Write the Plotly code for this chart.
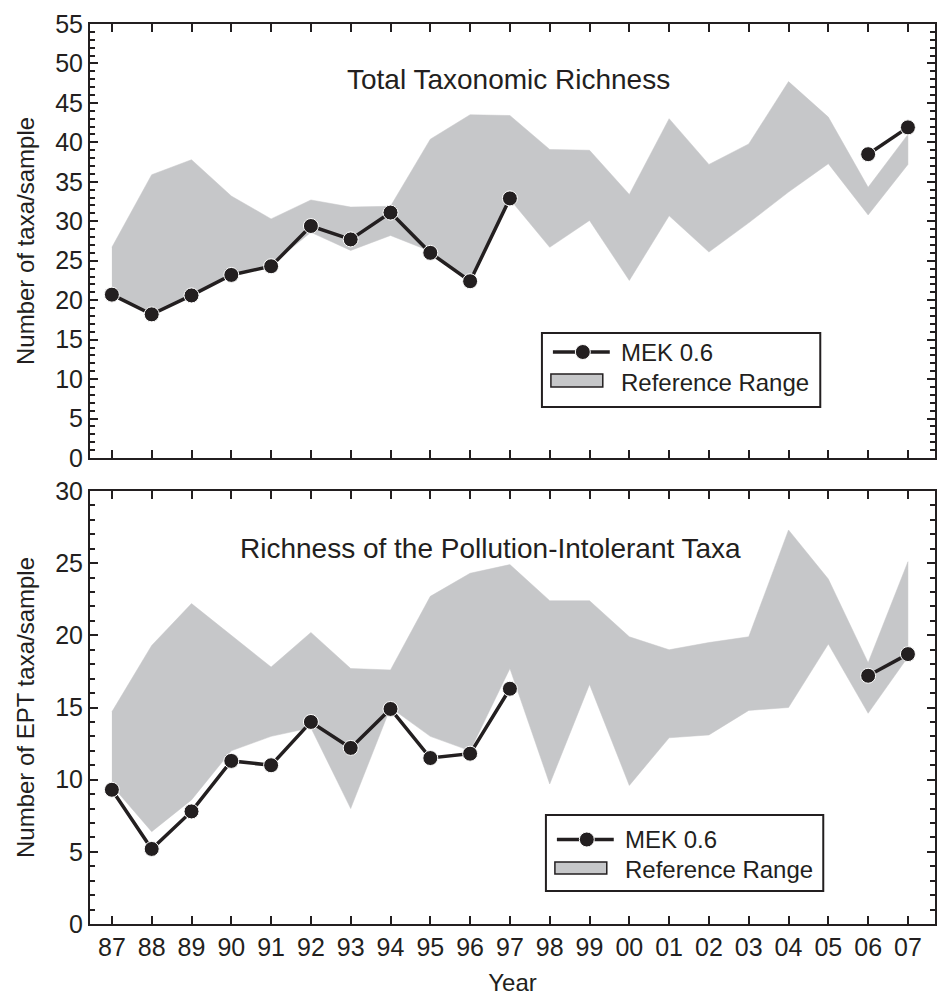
import plotly.graph_objects as go
from plotly.subplots import make_subplots

years = list(range(1987, 2008))
year_labels = ["87", "88", "89", "90", "91", "92", "93", "94", "95", "96", "97",
               "98", "99", "00", "01", "02", "03", "04", "05", "06", "07"]

# Total taxonomic richness
mek_total = [20.7, 18.2, 20.6, 23.2, 24.3, 29.4, 27.7, 31.1, 26.0, 22.4, 32.9,
             None, None, None, None, None, None, None, None, 38.5, 41.9]
ref_total_upper = [26.7, 35.9, 37.8, 33.2, 30.3, 32.7, 31.8, 31.9, 40.4, 43.5, 43.4,
                   39.1, 39.0, 33.4, 43.0, 37.2, 39.8, 47.7, 43.2, 34.3, 41.0]
ref_total_lower = [20.9, 18.5, 20.8, 23.4, 24.5, 28.6, 26.3, 28.2, 26.2, 22.6, 32.8,
                   26.7, 30.1, 22.5, 30.7, 26.1, 29.8, 33.7, 37.3, 30.8, 37.2]

# EPT richness
mek_ept = [9.3, 5.2, 7.8, 11.3, 11.0, 14.0, 12.2, 14.9, 11.5, 11.8, 16.3,
           None, None, None, None, None, None, None, None, 17.2, 18.7]
ref_ept_upper = [14.7, 19.3, 22.2, 20.0, 17.8, 20.2, 17.7, 17.6, 22.7, 24.3, 24.9,
                 22.4, 22.4, 19.9, 19.0, 19.5, 19.9, 27.3, 23.9, 18.1, 25.1]
ref_ept_lower = [9.6, 6.4, 8.6, 12.0, 13.0, 13.6, 8.0, 15.0, 13.0, 12.0, 17.7,
                 9.7, 16.6, 9.6, 12.9, 13.1, 14.8, 15.0, 19.4, 14.6, 18.5]

series_name = "MEK 0.6"
range_name = "Reference Range"

INK = "#231f20"
BAND = "#c6c7c9"
FONT = "Liberation Sans, Arial, sans-serif"

W, H = 940, 996
ML, MR, MT, MB = 90, 3, 24, 72
PW, PH = W - ML - MR, H - MT - MB


def px(x):
    return (x - ML) / PW


def py(y):
    return (H - MB - y) / PH


fig = make_subplots(rows=2, cols=1, vertical_spacing=0.0)


def add_panel(row, upper, lower, mek):
    fig.add_trace(go.Scatter(
        x=years + years[::-1], y=upper + lower[::-1],
        fill="toself", fillcolor=BAND, mode="lines",
        line=dict(color=BAND, width=0.5), name=range_name,
        showlegend=False, hoverinfo="skip"),
        row=row, col=1)
    fig.add_trace(go.Scatter(
        x=years, y=mek, mode="lines+markers", name=series_name,
        line=dict(color=INK, width=3.5),
        marker=dict(color=INK, size=15, line=dict(color="white", width=1)),
        connectgaps=False, showlegend=False), row=row, col=1)


add_panel(1, ref_total_upper, ref_total_lower, mek_total)
add_panel(2, ref_ept_upper, ref_ept_lower, mek_ept)


def add_legend(bx0, by0, bx1, by1, dy_line, dy_rect0, dy_rect1, dy_t2):
    # box
    fig.add_shape(type="rect", xref="paper", yref="paper",
                  x0=px(bx0), x1=px(bx1), y0=py(by0), y1=py(by1),
                  line=dict(color=INK, width=2), fillcolor="white", layer="above")
    # line sample
    fig.add_shape(type="line", xref="paper", yref="paper",
                  x0=px(bx0 + 11), x1=px(bx0 + 68), y0=py(by0 + dy_line),
                  y1=py(by0 + dy_line), line=dict(color=INK, width=3.5), layer="above")
    cx, cy, r = bx0 + 41, by0 + dy_line, 7.5
    fig.add_shape(type="circle", xref="paper", yref="paper",
                  x0=px(cx - r), x1=px(cx + r), y0=py(cy - r), y1=py(cy + r),
                  line=dict(color="white", width=1), fillcolor=INK, layer="above")
    # fill sample
    fig.add_shape(type="rect", xref="paper", yref="paper",
                  x0=px(bx0 + 9), x1=px(bx0 + 61), y0=py(by0 + dy_rect0),
                  y1=py(by0 + dy_rect1), line=dict(color=INK, width=1.5),
                  fillcolor=BAND, layer="above")
    fig.add_annotation(text=series_name, xref="paper", yref="paper",
                       x=px(bx0 + 77), y=py(by0 + dy_line), xanchor="left",
                       yanchor="middle", showarrow=False,
                       font=dict(family=FONT, size=24, color=INK))
    fig.add_annotation(text=range_name, xref="paper", yref="paper",
                       x=px(bx0 + 77), y=py(by0 + dy_t2), xanchor="left",
                       yanchor="middle", showarrow=False,
                       font=dict(family=FONT, size=24, color=INK))


add_legend(543, 333, 822, 407, 19, 41, 54, 49)
add_legend(547, 815, 825, 891, 24.5, 47, 59, 54)

axis_common = dict(showline=True, linecolor=INK, linewidth=2, mirror="ticks",
                   ticks="inside", ticklen=8, tickwidth=2, tickcolor=INK,
                   showgrid=False, zeroline=False,
                   tickfont=dict(family=FONT, size=25, color=INK))

fig.update_xaxes(**axis_common, range=[1986.45, 2007.68], tickvals=years,
                 ticktext=year_labels)
fig.update_xaxes(showticklabels=False, row=1, col=1)
fig.update_xaxes(title=dict(text="Year", font=dict(family=FONT, size=24, color=INK),
                            standoff=14), row=2, col=1)

fig.update_yaxes(**axis_common,
                 minor=dict(dtick=1, ticks="inside", ticklen=5, tickwidth=1.5,
                            tickcolor=INK, showgrid=False))
fig.update_yaxes(range=[0, 55], dtick=5, domain=[0.5178, 1.0],
                 title=dict(text="Number of taxa/sample",
                            font=dict(family=FONT, size=24, color=INK), standoff=14),
                 row=1, col=1)
fig.update_yaxes(range=[0, 30], dtick=5, domain=[0.0, 0.4811],
                 title=dict(text="Number of EPT taxa/sample",
                            font=dict(family=FONT, size=24, color=INK), standoff=14),
                 row=2, col=1)

fig.add_annotation(text="Total Taxonomic Richness", xref="x domain", yref="y domain",
                   x=0.495, y=0.912, showarrow=False,
                   font=dict(family=FONT, size=28, color=INK))
fig.add_annotation(text="Richness of the Pollution-Intolerant Taxa", xref="x2 domain",
                   yref="y2 domain", x=0.474, y=0.907, showarrow=False,
                   font=dict(family=FONT, size=28, color=INK))

fig.update_layout(
    width=W, height=H,
    margin=dict(l=ML, r=MR, t=MT, b=MB),
    plot_bgcolor="white", paper_bgcolor="white",
    font=dict(family=FONT, color=INK),
    showlegend=False,
)

fig.write_html("out.html")
